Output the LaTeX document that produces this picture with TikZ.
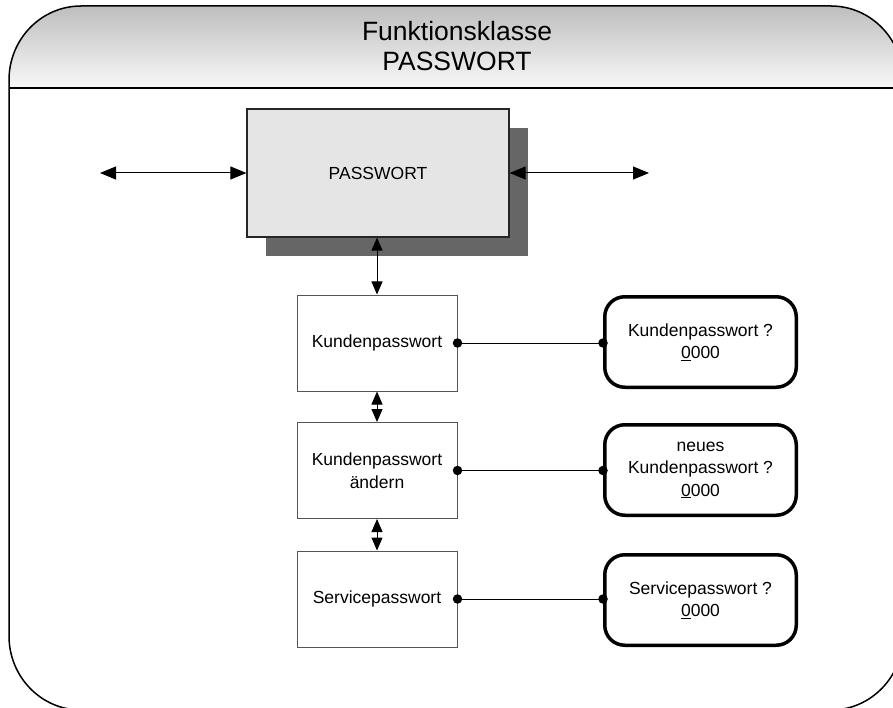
\documentclass[tikz,border=0pt]{standalone}
\usepackage{fontspec}
\setmainfont{Liberation Sans}
\usetikzlibrary{arrows.meta,shadows}
\definecolor{boxfill}{HTML}{E5E5E5}
\definecolor{shadowgray}{HTML}{666666}
\definecolor{hdtop}{HTML}{BEBEBE}
\definecolor{hdbot}{HTML}{F8F8F8}
\definecolor{rectline}{HTML}{555555}
\begin{document}
\begin{tikzpicture}[x=1pt,y=-1pt,
  mainbox/.style={draw=black!85, line width=1.2pt, fill=boxfill, minimum width=262pt, minimum height=128pt, inner sep=0pt, font=\fontsize{17.5}{22}\selectfont, general shadow={fill=shadowgray, shadow xshift=19pt, shadow yshift=-19pt}},
  funcbox/.style={draw=rectline, line width=1pt, fill=white, minimum width=160pt, minimum height=96pt, inner sep=0pt, align=center, font=\fontsize{17.5}{22.5}\selectfont},
  inbox/.style={draw=black, line width=3.5pt, rounded corners=20pt, minimum width=191.5pt, minimum height=90.5pt, inner sep=0pt, align=center, font=\fontsize{17.5}{22.5}\selectfont},
  dot/.style={circle, fill=black, inner sep=0pt, minimum size=9.5pt},
  dbl/.style={{Triangle[length=13pt,width=11pt]}-{Triangle[length=13pt,width=11pt]}, line width=1pt},
  bigdbl/.style={{Triangle[length=16pt,width=13pt]}-{Triangle[length=16pt,width=13pt]}, line width=1pt},
  link/.style={line width=0.8pt},
  frameline/.style={line width=1.5pt},
  title/.style={align=center, font=\fontsize{26.5}{30}\selectfont}
]
\useasboundingbox (0,0) rectangle (893,708);
\clip (0,0) rectangle (893,708);
% header band
\shade[top color=hdtop, bottom color=hdbot] (9,88) -- (9,80)
  arc[start angle=180, end angle=270, x radius=72, y radius=74] -- (831,6)
  arc[start angle=270, end angle=360, x radius=72, y radius=74] -- (903,88) -- cycle;
% frame
\draw[frameline] (9,80)
  arc[start angle=180, end angle=270, x radius=72, y radius=74] -- (831,6)
  arc[start angle=270, end angle=360, x radius=72, y radius=74] -- (903,636)
  arc[start angle=0, end angle=90, x radius=72, y radius=74] -- (81,710)
  arc[start angle=90, end angle=180, x radius=72, y radius=74] -- cycle;
\draw[frameline] (9,88) -- (903,88);
\node[title] (head) at (457,46) {Funktionsklasse\\PASSWORT};

% main box
\node[mainbox] (pw) at (378,173) {PASSWORT};
\coordinate (lend) at (100,173);
\coordinate (rend) at (649,173);
\draw[bigdbl] (lend) -- (pw.west);
\draw[bigdbl] (pw.east) -- (rend);

% function boxes
\node[funcbox] (k1) at (377,343) {Kundenpasswort};
\node[funcbox] (k2) at (377,470.5) {Kundenpasswort\\ändern};
\node[funcbox] (k3) at (377,599) {Servicepasswort};

\draw[dbl] (pw.south -| k1.north) -- (k1.north);
\draw[dbl] (k1.south) -- (k2.north);
\draw[dbl] (k2.south) -- (k3.north);

% input boxes
\node[inbox] (q1) at (700.5,342) {Kundenpasswort ?\\\underline{0}000};
\node[inbox] (q2) at (700.5,470) {neues\\Kundenpasswort ?\\\underline{0}000};
\node[inbox] (q3) at (700.5,600) {Servicepasswort ?\\\underline{0}000};

\draw[link] (k1.east) -- (k1.east -| q1.west);
\draw[link] (k2.east) -- (k2.east -| q2.west);
\draw[link] (k3.east) -- (k3.east -| q3.west);
\node[dot] (d1a) at (k1.east) {};
\node[dot] (d1b) at (k1.east -| q1.west) {};
\node[dot] (d2a) at (k2.east) {};
\node[dot] (d2b) at (k2.east -| q2.west) {};
\node[dot] (d3a) at (k3.east) {};
\node[dot] (d3b) at (k3.east -| q3.west) {};
\end{tikzpicture}
\end{document}
